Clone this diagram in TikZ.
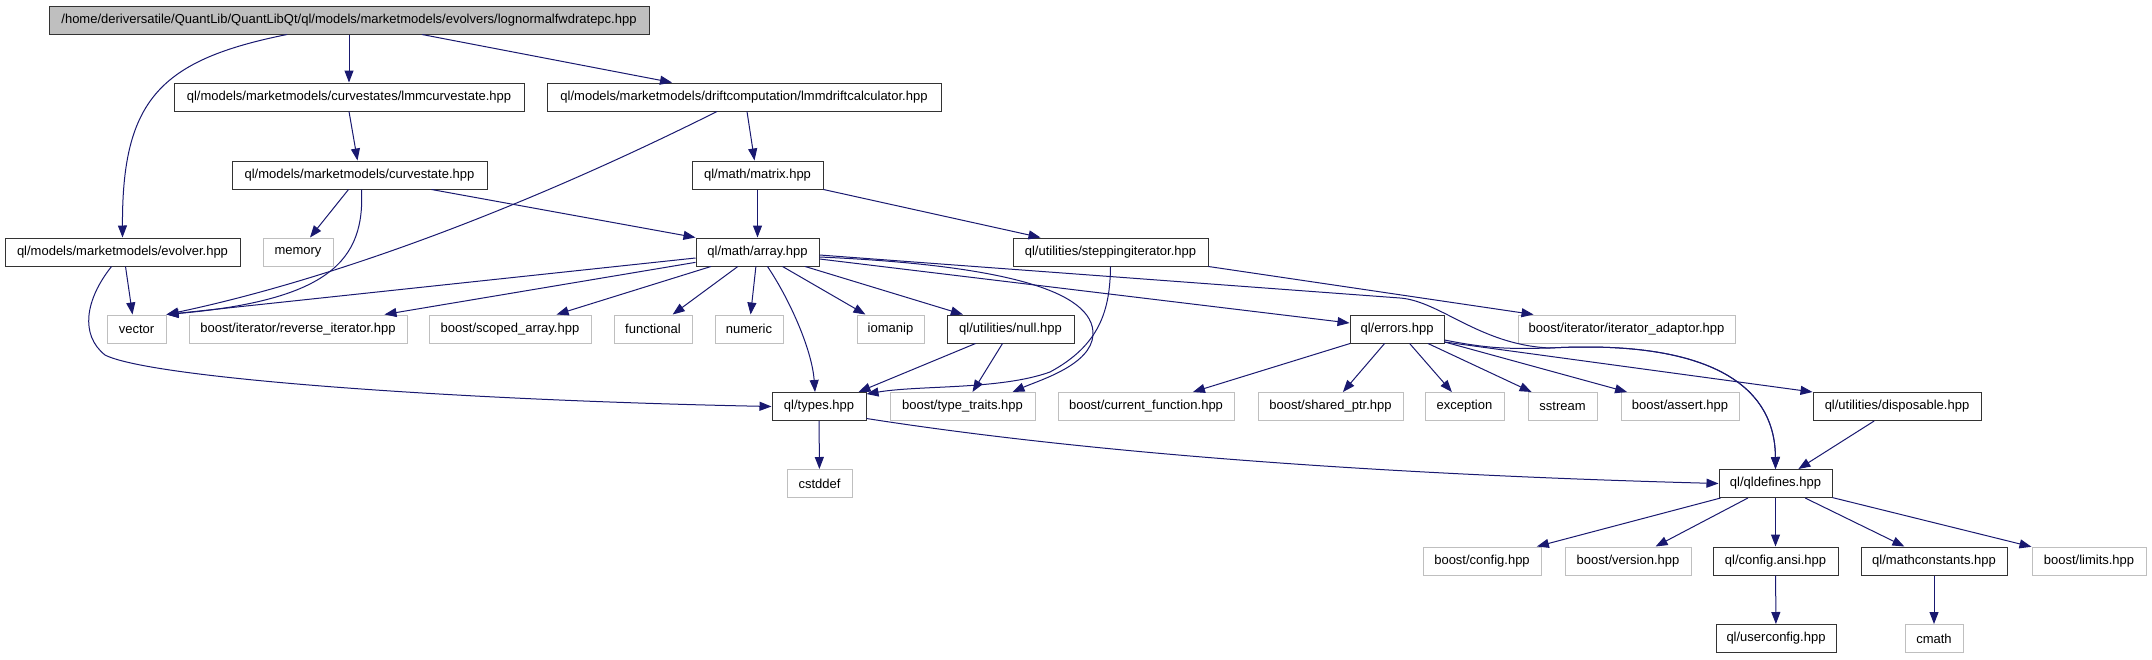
\documentclass[tikz,border=0pt]{standalone}
\usepackage{fontspec}
\setmainfont{Liberation Sans}
\usepackage{tikz}
\usetikzlibrary{arrows.meta, positioning}
\definecolor{midnight}{RGB}{25,25,112}
\definecolor{lightframe}{RGB}{191,191,191}
\tikzset{
  inc/.style={rectangle, draw=black!80, line width=1pt, minimum width=#1,
              minimum height=28pt, inner sep=0pt, fill=white,
              font=\fontsize{13}{15}\selectfont},
  inc/.default=100pt,
  ext/.style={inc=#1, draw=lightframe},
  ext/.default=100pt,
  root/.style={inc=#1, fill=lightframe},
  root/.default=100pt,
  dep/.style={draw=midnight, line width=1pt,
              -{Triangle[length=12pt,width=9pt]}},
}
\begin{document}
\begin{tikzpicture}[x=1pt, y=-1pt]

\fill[white] (0,0) rectangle (2152,659);

% ── Row 1: documented file ────────────────────────────────────────────────────
\node[root=600pt] (top) at (349,20)
  {/home/deriversatile/QuantLib/QuantLibQt/ql/models/marketmodels/evolvers/lognormalfwdratepc.hpp};

% ── Rows 2-4: model headers ───────────────────────────────────────────────────
\node[inc=350pt] (lmmcurve) at (349,97) {ql/models/marketmodels/curvestates/lmmcurvestate.hpp};
\node[inc=394pt] (lmmdrift) at (744,97) {ql/models/marketmodels/driftcomputation/lmmdriftcalculator.hpp};

\node[inc=255pt] (curvestate) at (359.5,175) {ql/models/marketmodels/curvestate.hpp};
\node[inc=131pt] (matrix) at (757.5,175) {ql/math/matrix.hpp};

\node[inc=235pt] (evolver) at (122.5,252) {ql/models/marketmodels/evolver.hpp};
\node[ext=70pt]  (memory) at (298,252) {memory};
\node[inc=123pt] (array) at (757.5,252) {ql/math/array.hpp};
\node[inc=195pt] (stepping) at (1110.5,252) {ql/utilities/steppingiterator.hpp};

% ── Row 5 ─────────────────────────────────────────────────────────────────────
\node[ext=59pt]  (vector) at (136.5,329) {vector};
\node[ext=218pt] (revit) at (298,329) {boost/iterator/reverse\_iterator.hpp};
\node[ext=162pt] (scoped) at (510,329) {boost/scoped\_array.hpp};
\node[ext=78pt]  (functional) at (653,329) {functional};
\node[ext=68pt]  (numeric) at (749,329) {numeric};
\node[ext=67pt]  (iomanip) at (890.5,329) {iomanip};
\node[inc=127pt] (null) at (1010.5,329) {ql/utilities/null.hpp};
\node[inc=94pt]  (errors) at (1397,329) {ql/errors.hpp};
\node[ext=217pt] (iteradapt) at (1626.5,329) {boost/iterator/iterator\_adaptor.hpp};

% ── Row 6 ─────────────────────────────────────────────────────────────────────
\node[inc=94pt]  (types) at (819,406.5) {ql/types.hpp};
\node[ext=145pt] (typetraits) at (962.5,406.5) {boost/type\_traits.hpp};
\node[ext=176pt] (curfunc) at (1146,406.5) {boost/current\_function.hpp};
\node[ext=145pt] (sharedptr) at (1330.5,406.5) {boost/shared\_ptr.hpp};
\node[ext=79pt]  (exception) at (1464.5,406.5) {exception};
\node[ext=69pt]  (sstream) at (1562.5,406.5) {sstream};
\node[ext=118pt] (assert) at (1680,406.5) {boost/assert.hpp};
\node[inc=168pt] (disposable) at (1897,406.5) {ql/utilities/disposable.hpp};

% ── Rows 7-9 ──────────────────────────────────────────────────────────────────
\node[ext=65pt]  (cstddef) at (819.5,483.5) {cstddef};
\node[inc=113pt] (qldefines) at (1775.5,483.5) {ql/qldefines.hpp};

\node[ext=118pt] (config) at (1482,561) {boost/config.hpp};
\node[ext=126pt] (version) at (1628,561) {boost/version.hpp};
\node[inc=125pt] (configansi) at (1775.5,561) {ql/config.ansi.hpp};
\node[inc=146pt] (mathconst) at (1934,561) {ql/mathconstants.hpp};
\node[ext=114pt] (limits) at (2089,561) {boost/limits.hpp};

\node[inc=120pt] (userconfig) at (1776,638.5) {ql/userconfig.hpp};
\node[ext=58pt]  (cmath) at (1934,638.5) {cmath};

% ── Edges: top file ───────────────────────────────────────────────────────────
\draw[dep] ([xshift=-62pt]top.south) .. controls (160,60) and (122,100) .. (evolver.north);
\draw[dep] (top) -- (lmmcurve);
\draw[dep] ([xshift=73pt]top.south) -- ([xshift=-72pt]lmmdrift.north);

% ── Edges: model headers ──────────────────────────────────────────────────────
\draw[dep] (lmmcurve.south) -- ([xshift=-2pt]curvestate.north);
\draw[dep] ([xshift=3pt]lmmdrift.south) -- ([xshift=-3pt]matrix.north);
\draw[dep] ([xshift=-27pt]lmmdrift.south) .. controls (520,210) and (330,280) .. (vector.north east);
\draw[dep] ([xshift=-11pt]curvestate.south) -- ([xshift=12pt]memory.north);
\draw[dep] ([xshift=2pt]curvestate.south) .. controls (365,260) and (330,300) .. (vector.north east);
\draw[dep] ([xshift=72pt]curvestate.south) -- (array.north west);
\draw[dep] (matrix) -- (array);
\draw[dep] (matrix.south east) -- ([xshift=-70pt]stepping.north);
\draw[dep] ([xshift=3pt]evolver.south) -- ([xshift=-4pt]vector.north);
\draw[dep] ([xshift=-11pt]evolver.south) .. controls (85,300) and (80,335) .. (105,355)
  .. controls (150,378) and (450,400) .. (types.west);

% ── Edges: array.hpp ──────────────────────────────────────────────────────────
\draw[dep] ([yshift=-6pt]array.west) -- (vector.north east);
\draw[dep] (array) -- (revit);
\draw[dep] (array) -- (scoped);
\draw[dep] (array) -- (functional);
\draw[dep] (array) -- (numeric);
\draw[dep] ([xshift=10pt]array.south) .. controls (790,300) and (812,350) .. ([xshift=-4pt]types.north);
\draw[dep] (array) -- (iomanip);
\draw[dep] (array) -- (null);
\draw[dep] ([yshift=-7pt]array.east) -- ([yshift=6pt]errors.west);
\draw[dep] ([yshift=-5pt]array.east) .. controls (1000,265) and (1095,290) .. (1093,335)
  .. controls (1091,365) and (1040,380) .. ([xshift=50pt]typetraits.north);
\draw[dep] ([yshift=-3pt]array.east) -- (1400,298) .. controls (1440,301) and (1480,345) .. (1550,348)
  .. controls (1700,340) and (1775,380) .. (qldefines.north);

% ── Edges: steppingiterator / null / errors ───────────────────────────────────
\draw[dep] (stepping.south east) -- ([xshift=-93pt]iteradapt.north);
\draw[dep] (stepping.south) .. controls (1110,310) and (1100,345) .. (1050,372)
  .. controls (1000,390) and (920,385) .. ([yshift=-2pt]types.north east);
\draw[dep] ([xshift=-35pt]null.south) -- ([xshift=-8pt]types.north east);
\draw[dep] ([xshift=-8pt]null.south) -- ([xshift=10pt]typetraits.north);
\draw[dep] (errors) -- (curfunc);
\draw[dep] (errors) -- (sharedptr);
\draw[dep] (errors) -- (exception);
\draw[dep] (errors) -- (sstream);
\draw[dep] (errors) -- (assert);
\draw[dep] ([yshift=-11pt]errors.east) .. controls (1490,349) and (1510,349) .. (1550,348)
  .. controls (1700,340) and (1775,380) .. (qldefines.north);
\draw[dep] ([yshift=-13pt]errors.east) -- (disposable.north west);

% ── Edges: lower rows ─────────────────────────────────────────────────────────
\draw[dep] (disposable) -- (qldefines);
\draw[dep] (types) -- (cstddef);
\draw[dep] ([yshift=-12pt]types.east) .. controls (1100,455) and (1400,475) .. (qldefines.west);
\draw[dep] (qldefines) -- (config);
\draw[dep] (qldefines) -- (version);
\draw[dep] (qldefines) -- (configansi);
\draw[dep] (qldefines) -- (mathconst);
\draw[dep] (qldefines) -- (limits);
\draw[dep] (configansi) -- (userconfig);
\draw[dep] (mathconst) -- (cmath);

\end{tikzpicture}
\end{document}
